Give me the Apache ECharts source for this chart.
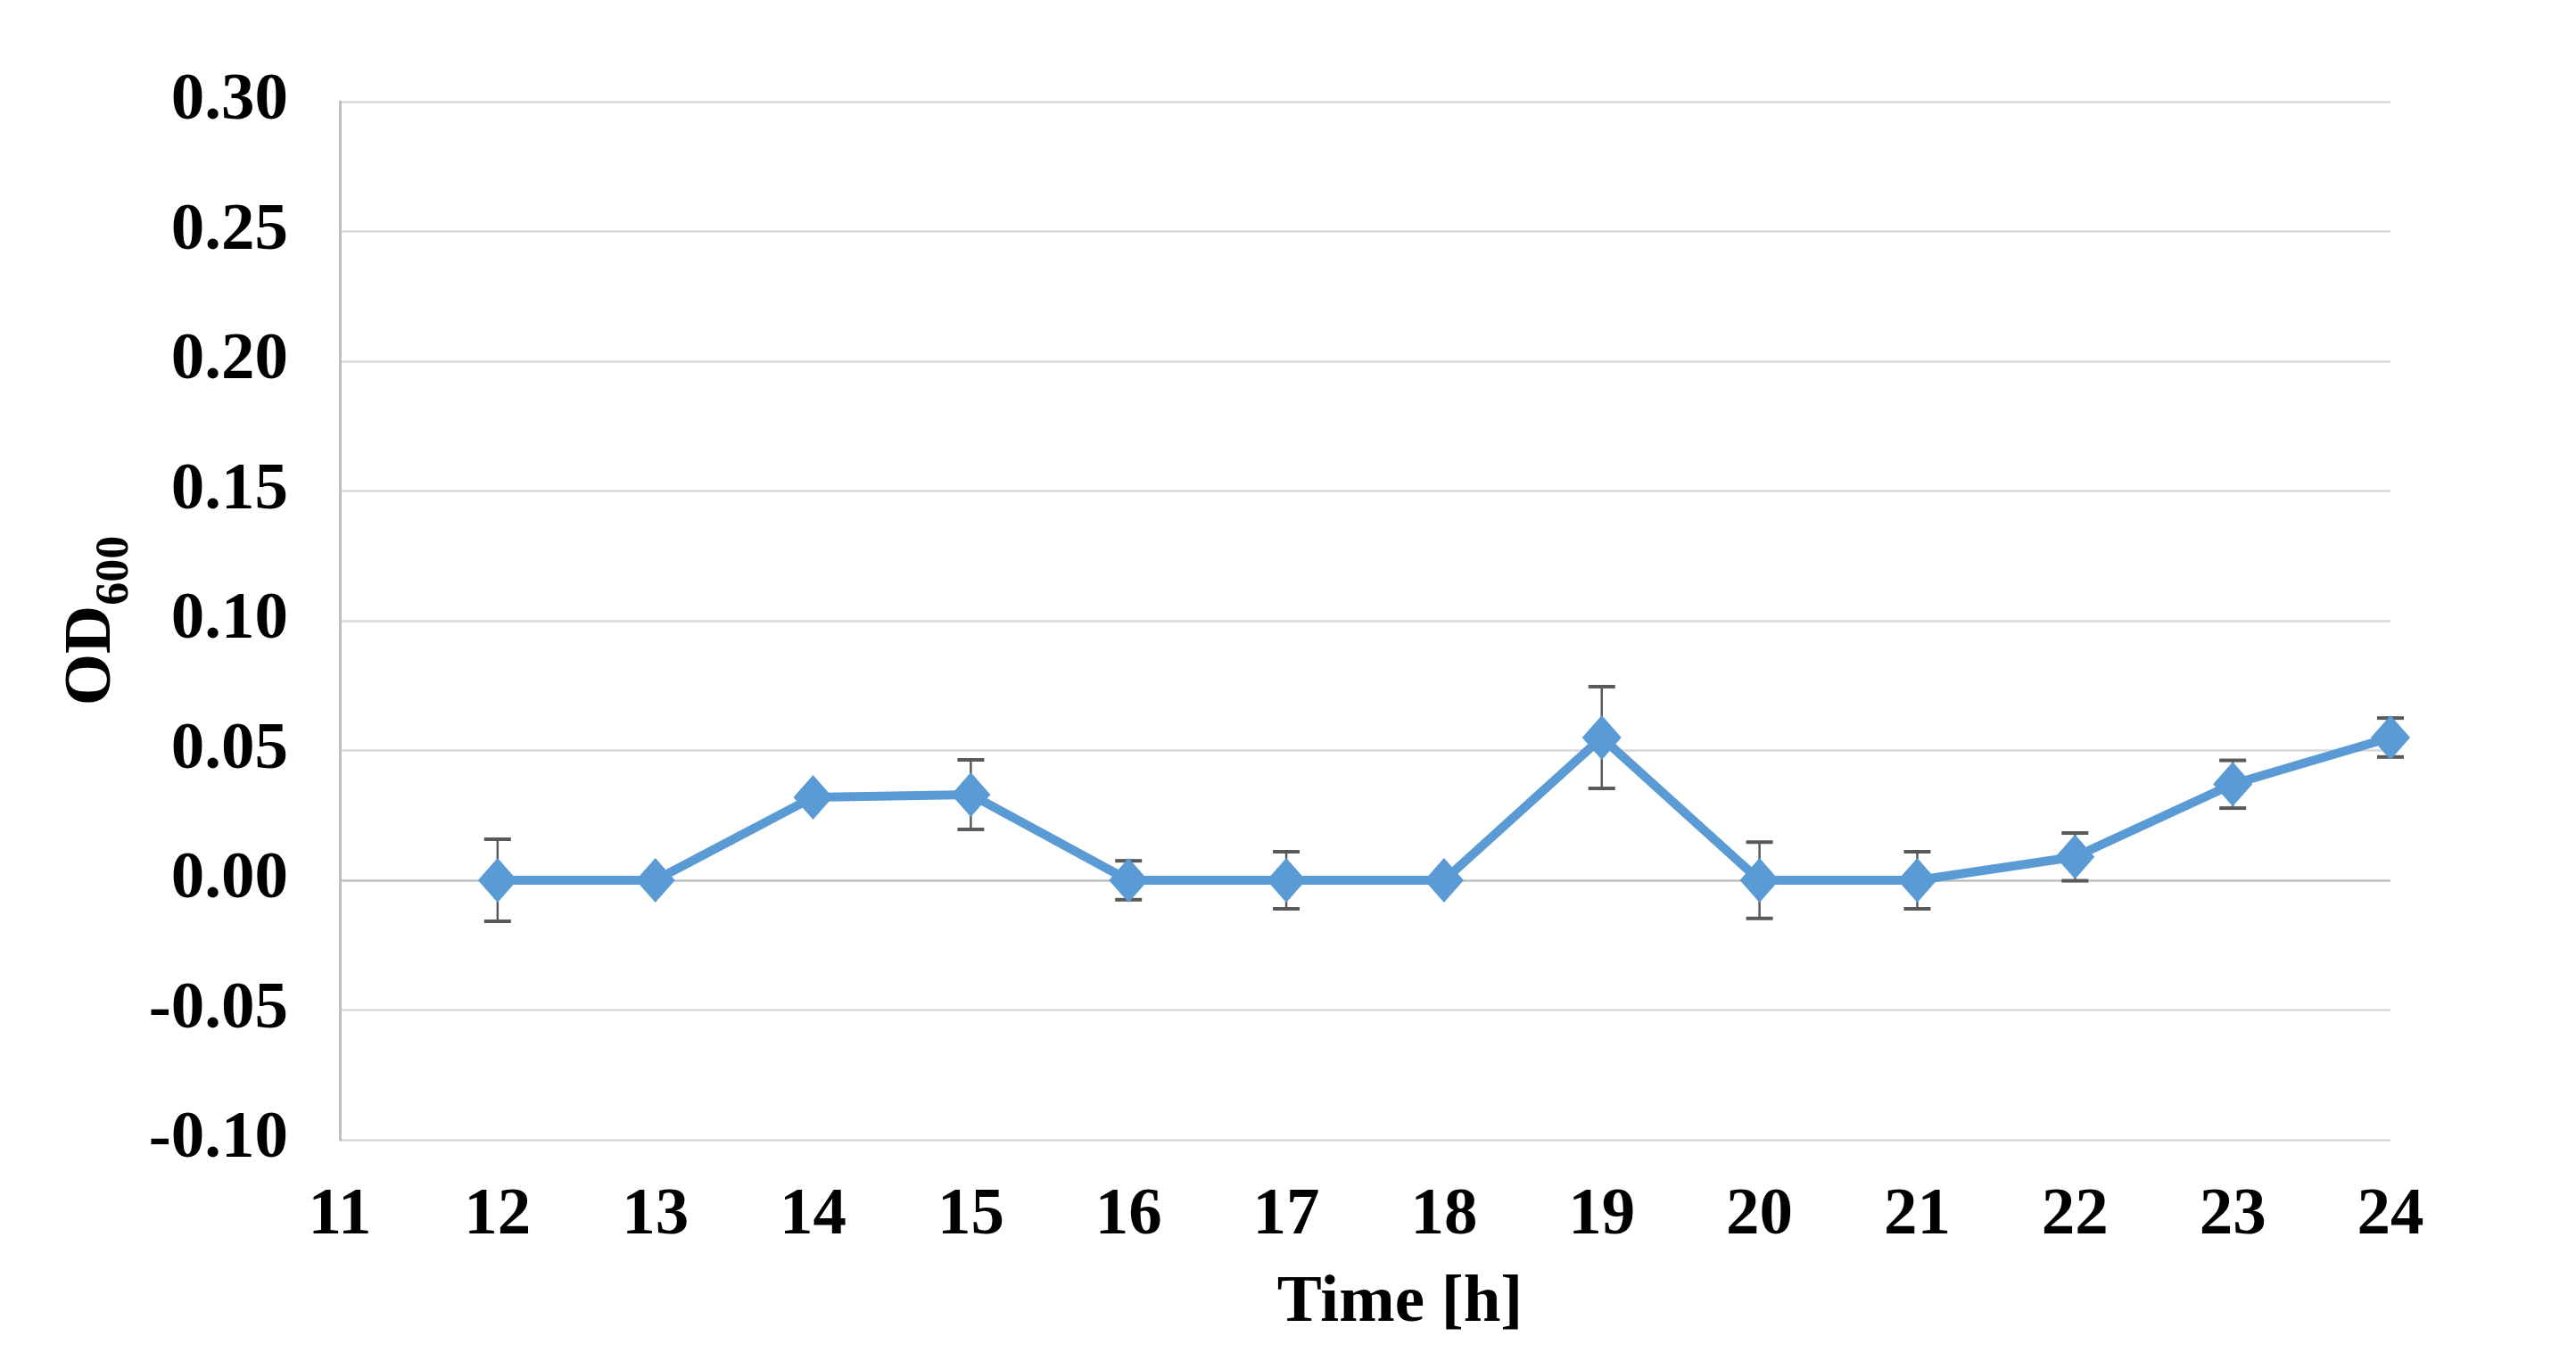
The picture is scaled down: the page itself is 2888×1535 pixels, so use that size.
<!DOCTYPE html>
<html>
<head>
<meta charset="utf-8">
<script src="https://cdn.jsdelivr.net/npm/echarts@6/dist/echarts.min.js"></script>
<style>
html, body { margin: 0; padding: 0; background: #fff; }
#chart { width: 2888px; height: 1535px; }
</style>
</head>
<body>
<div id="chart"></div>
<script>
// time points (h) and mean OD600 with error (+/-)
var hours = [12, 13, 14, 15, 16, 17, 18, 19, 20, 21, 22, 23, 24];
var od600 = [0, 0, 0.032, 0.033, 0, 0, 0, 0.055, 0, 0, 0.009, 0.037, 0.055];
var errs  = [0.0158, 0, 0, 0.0134, 0.0075, 0.011, 0, 0.0196, 0.0147, 0.011, 0.0092, 0.0092, 0.0075];

var FONT = '"Liberation Serif", "Times New Roman", serif';
var BLUE = '#5B9BD5';

var lineData = hours.map(function (h, i) { return [h, od600[i]]; });
var errData = [];
hours.forEach(function (h, i) {
    if (errs[i] > 0) errData.push([h, od600[i] - errs[i], od600[i] + errs[i]]);
});

// grid lines: the one at 0 is the darker axis line
var gridColors = ['#d9d9d9', '#d9d9d9', '#bfbfbf', '#d9d9d9', '#d9d9d9', '#d9d9d9', '#d9d9d9', '#d9d9d9', '#d9d9d9'];

var myChart = echarts.init(document.getElementById('chart'));
var option = {
    backgroundColor: '#fff',
    animation: false,
    grid: {
        left: 381,
        right: 208,
        top: 114,
        bottom: 257,
        containLabel: false,
        outerBoundsMode: 'none'
    },
    xAxis: {
        type: 'value',
        min: 11,
        max: 24,
        interval: 1,
        name: 'Time [h]',
        nameLocation: 'middle',
        nameGap: 146,
        nameTextStyle: {
            fontFamily: FONT, fontWeight: 'bold', fontSize: 75, color: '#000',
            padding: [0, 0, 0, 78]
        },
        axisLine: { show: false },
        axisTick: { show: false },
        splitLine: { show: false },
        axisLabel: {
            fontFamily: FONT, fontWeight: 'bold', fontSize: 75, color: '#000',
            margin: 48
        }
    },
    yAxis: {
        type: 'value',
        min: -0.1,
        max: 0.3,
        interval: 0.05,
        name: '{a|OD}{b|600}',
        nameLocation: 'middle',
        nameGap: 214,
        nameTextStyle: {
            rich: {
                a: { fontFamily: FONT, fontWeight: 'bold', fontSize: 75, color: '#000' },
                b: { fontFamily: FONT, fontWeight: 'bold', fontSize: 52, color: '#000',
                     lineHeight: 104, verticalAlign: 'bottom' }
            }
        },
        axisLine: { show: true, lineStyle: { color: '#bfbfbf', width: 3 } },
        axisTick: { show: false },
        splitLine: { show: true, lineStyle: { color: gridColors, width: 2.5 } },
        axisLabel: {
            fontFamily: FONT, fontWeight: 'bold', fontSize: 75, color: '#000',
            margin: 58,
            formatter: function (v) { return v.toFixed(2); }
        }
    },
    series: [
        {
            name: 'error',
            type: 'custom',
            z: 1,
            data: errData,
            renderItem: function (params, api) {
                var lo = api.coord([api.value(0), api.value(1)]);
                var hi = api.coord([api.value(0), api.value(2)]);
                var cap = 15;
                var st = { stroke: '#595959', lineWidth: 2.5 };
                var capSt = { stroke: '#595959', lineWidth: 4 };
                return {
                    type: 'group',
                    children: [
                        { type: 'line', shape: { x1: lo[0], y1: lo[1], x2: hi[0], y2: hi[1] }, style: st },
                        { type: 'line', shape: { x1: lo[0] - cap, y1: lo[1], x2: lo[0] + cap, y2: lo[1] }, style: capSt },
                        { type: 'line', shape: { x1: hi[0] - cap, y1: hi[1], x2: hi[0] + cap, y2: hi[1] }, style: capSt }
                    ]
                };
            }
        },
        {
            name: 'OD600',
            type: 'line',
            z: 3,
            data: lineData,
            symbol: 'diamond',
            symbolSize: [44, 50],
            lineStyle: { color: BLUE, width: 10 },
            itemStyle: { color: BLUE }
        }
    ]
};
myChart.setOption(option);
</script>
</body>
</html>
